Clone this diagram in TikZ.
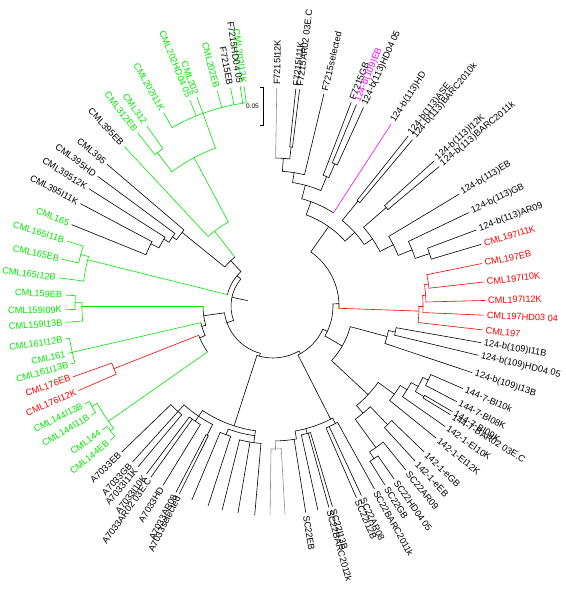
\documentclass[tikz,border=0pt]{standalone}
\usepackage{fontspec}
\setmainfont{Liberation Sans}
\usepackage{tikz}
\definecolor{cladegreen}{HTML}{00EA00}
\definecolor{cladered}{HTML}{FF0000}
\definecolor{cladepink}{HTML}{FF00FF}
\definecolor{edgegray}{HTML}{8C8C8C}
\tikzset{
  branch/.style={line width=0.6pt,line cap=round},
  tiplabel/.style={font=\fontsize{9.2}{10}\selectfont,inner sep=0pt},
  scalelabel/.style={font=\fontsize{6.5}{7}\selectfont,inner sep=0pt}
}
% clade: angle, parent radius, radius, arc from, arc to, colour
\newcommand{\clade}[6]{%
  \draw[branch,#6] (#1:#2) -- (#1:#3);
  \draw[branch,#6] (#4:#3) arc[start angle=#4,end angle=#5,radius=#3];}
% labelled tip: name, angle, parent radius, tip radius, edge colour, label colour, text
\newcommand{\leafnode}[7]{%
  \draw[branch,#5] (#2:#3) -- (#2:#4);
  \pgfmathtruncatemacro{\leftside}{(#2>90)&&(#2<270)}%
  \ifnum\leftside=1
    \node[tiplabel,text=#6,rotate=#2+180,anchor=east] (#1) at (#2:{#4+3}) {#7};
  \else
    \node[tiplabel,text=#6,rotate=#2,anchor=west] (#1) at (#2:{#4+3}) {#7};
  \fi}
% tip with no label: angle, parent radius, tip radius, colour
\newcommand{\bareleaf}[4]{\draw[branch,#4] (#1:#2) -- (#1:#3);}

\begin{document}
\begin{tikzpicture}[x=1pt,y=1pt]
  \useasboundingbox (-273,-295) rectangle (292,306);
  % scale bar
  \draw[branch,line cap=butt] (-13,219) -- (-10,219) -- (-10,181) -- (-13,181);
  \node[scalelabel,anchor=east] (scalebar) at (-14,200) {0.05};
  % root
  \draw[branch] (168:26) -- (168:42);
  \draw[branch] (140:42) arc[start angle=140,end angle=200,radius=42];

  % CML395, CML312, CML202, CML165
  \clade{140}{42}{47}{133}{166}{black}
  \clade{133}{47}{62}{128}{141}{black}
  \clade{128}{62}{95}{118}{133}{cladegreen}
  \leafnode{cxcveb}{133}{95}{218}{cladegreen}{black}{CML395EB}
  \clade{118}{95}{168}{110}{127}{cladegreen}
  \clade{127}{168}{192}{125}{128}{cladegreen}
  \leafnode{cccxii}{125}{192}{220}{cladegreen}{cladegreen}{CML312}
  \leafnode{cccxiieb}{128}{192}{220}{cladegreen}{cladegreen}{CML312EB}
  \clade{110}{168}{205}{97.5}{119.5}{cladegreen}
  \leafnode{ccciik}{119.5}{205}{222}{cladegreen}{cladegreen}{CML202I11K}
  \leafnode{cccihd}{112}{205}{222}{cladegreen}{cladegreen}{CML202HD04 05}
  \leafnode{cccii}{110}{205}{222}{cladegreen}{cladegreen}{CML202}
  \leafnode{ccciieb}{104.5}{205}{222}{cladegreen}{cladegreen}{CML202EB}
  \leafnode{fseb}{101}{205}{222}{cladegreen}{black}{F7215EB}
  \leafnode{fshd}{98.5}{205}{222}{cladegreen}{black}{F7215HD04 05}
  \leafnode{ccciixiik}{97.5}{205}{222}{cladegreen}{cladegreen}{CML202I12K}
  \clade{141}{62}{117}{139.5}{145.5}{black}
  \leafnode{cxcv}{139.5}{117}{218}{black}{black}{CML395}
  \clade{145.5}{117}{122}{143.5}{148.5}{black}
  \leafnode{cxcvhd}{143.5}{122}{218}{black}{black}{CML395HD}
  \clade{148.5}{122}{128}{147.5}{153}{black}
  \leafnode{cxcvxii}{147.5}{128}{218}{black}{black}{CML39512K}
  \clade{153}{128}{137}{152}{158}{black}
  \leafnode{cxcvxi}{152}{137}{218}{black}{black}{CML395I11K}
  \leafnode{clxv}{158}{137}{217}{black}{cladegreen}{CML165}
  \clade{166}{47}{191}{165}{172.5}{cladegreen}
  \clade{165}{191}{199}{162.5}{167.5}{cladegreen}
  \leafnode{clxvxi}{162.5}{199}{216}{cladegreen}{cladegreen}{CML165I11B}
  \leafnode{clxveb}{167.5}{199}{216}{cladegreen}{cladegreen}{CML165EB}
  \leafnode{clxvxii}{172.5}{191}{216}{cladegreen}{cladegreen}{CML165I12B}

  % CML159, CML161, CML176, CML144
  \clade{200}{42}{49}{188}{255}{black}
  \clade{188}{49}{70}{180}{196}{black}
  \clade{180}{70}{191}{179}{184.5}{cladegreen}
  \clade{179}{191}{198}{177}{181}{cladegreen}
  \leafnode{clixeb}{177}{198}{208}{cladegreen}{cladegreen}{CML159EB}
  \leafnode{clixix}{181}{198}{208}{cladegreen}{cladegreen}{CML159I09K}
  \leafnode{clixxiii}{184.5}{191}{208}{cladegreen}{cladegreen}{CML159I13B}
  \clade{196}{70}{74}{193}{203.5}{black}
  \clade{193}{74}{206}{189}{196}{cladegreen}
  \leafnode{clxixii}{189}{206}{210}{cladegreen}{cladegreen}{CML161I12B}
  \leafnode{clxi}{193}{206}{210}{cladegreen}{cladegreen}{CML161}
  \leafnode{clxixiii}{196}{206}{210}{cladegreen}{cladegreen}{CML161I13B}
  \clade{203.5}{74}{80}{201.5}{215}{black}
  \clade{201.5}{80}{171}{199.5}{203.5}{cladered}
  \leafnode{clxxvieb}{199.5}{171}{212}{cladered}{cladered}{CML176EB}
  \leafnode{clxxvixii}{203.5}{171}{212}{cladered}{cladered}{CML176I12K}
  \clade{215}{80}{201}{209}{217.5}{cladegreen}
  \clade{209}{201}{207}{207.5}{211}{cladegreen}
  \leafnode{cxlivxiii}{207.5}{207}{212}{cladegreen}{cladegreen}{CML144I13B}
  \leafnode{cxlivxi}{211}{207}{212}{cladegreen}{cladegreen}{CML144I11B}
  \clade{217.5}{201}{205}{216}{219.5}{cladegreen}
  \leafnode{cxliv}{216}{205}{211}{cladegreen}{cladegreen}{CML144}
  \leafnode{cxliveb}{219.5}{205}{211}{cladegreen}{cladegreen}{CML144EB}

  % A7033
  \clade{255}{49}{52}{252}{300}{black}
  \clade{252}{52}{126}{236}{262}{black}
  \clade{236}{126}{133}{228}{243}{black}
  \clade{228}{133}{142}{224}{230}{black}
  \leafnode{aeb}{224}{142}{210}{black}{black}{A7033EB}
  \leafnode{agb}{228}{142}{210}{black}{black}{A7033GB}
  \leafnode{axi}{230}{142}{210}{black}{black}{A7033I11K}
  \clade{236}{133}{139}{233}{238.5}{black}
  \leafnode{ax}{233}{139}{210}{black}{black}{A7033I10K}
  \leafnode{aar}{234.5}{139}{210}{black}{black}{A7033AR02 03E.C}
  \leafnode{ahd}{238.5}{139}{210}{black}{black}{A7033HD}
  \clade{243}{133}{145}{242.5}{243.5}{black}
  \leafnode{asel}{243.5}{145}{210}{black}{black}{A7033selected}
  \leafnode{aarviii}{242.5}{145}{210}{black}{black}{A7033AR08}
  \clade{262}{126}{131}{250}{262}{black}
  \clade{250}{131}{137}{247.3}{252}{black}
  \bareleaf{247.3}{137}{210}{black}
  \bareleaf{252}{137}{210}{black}
  \clade{262}{131}{138}{256}{265}{black}
  \bareleaf{256}{138}{210}{black}
  \bareleaf{260.4}{138}{210}{black}
  \bareleaf{265}{138}{210}{black}

  % SC22
  \clade{300}{52}{55}{297}{335}{black}
  \clade{297}{55}{127}{280}{298}{black}
  \clade{298}{127}{133}{293.5}{299}{black}
  \leafnode{scbxi}{299}{133}{209}{black}{black}{SC22BARC2011k}
  \leafnode{scarviii}{295}{133}{209}{black}{black}{SC22AR08}
  \leafnode{scxii}{293.5}{133}{209}{black}{black}{SC22I12B}
  \clade{285}{127}{132}{282.4}{286.5}{black}
  \leafnode{scxiii}{286.5}{132}{209}{black}{black}{SC22I13B}
  \leafnode{scbxii}{285.5}{132}{209}{black}{black}{SC22BARC2012k}
  \bareleaf{282.4}{132}{209}{black}
  \clade{280}{127}{135}{271}{280}{black}
  \leafnode{sceb}{279}{135}{209}{black}{black}{SC22EB}
  \clade{271}{135}{143}{269.2}{273.3}{edgegray}
  \bareleaf{269.2}{143}{209}{edgegray}
  \bareleaf{273.3}{143}{209}{edgegray}

  % 124-b(109), 144-7, 142-1
  \clade{335}{55}{60}{330}{362}{black}
  \clade{330}{60}{80}{317}{345}{black}
  \clade{345}{80}{118}{341.5}{348}{black}
  \leafnode{bcixxiii}{341.5}{118}{210}{black}{black}{124-b(109)I13B}
  \clade{348}{118}{125}{346.5}{350}{black}
  \leafnode{bcixxi}{350}{125}{211}{black}{black}{124-b(109)I11B}
  \leafnode{bcixhd}{346.5}{125}{211}{black}{black}{124-b(109)HD04 05}
  \clade{317}{80}{130}{310}{324}{black}
  \clade{324}{130}{150}{321}{328}{black}
  \leafnode{exii}{321}{150}{210}{black}{black}{142-1-EI12K}
  \clade{328}{150}{158}{325}{331}{black}
  \leafnode{ex}{325}{158}{210}{black}{black}{142-1-EI10K}
  \clade{331}{158}{166}{329}{334.5}{black}
  \clade{334.5}{166}{172}{332.5}{336.5}{black}
  \leafnode{bix}{336.5}{172}{207}{black}{black}{144-7-BI10k}
  \leafnode{bviii}{332.5}{172}{207}{black}{black}{144-7-BI08K}
  \clade{329}{166}{176}{328.5}{329.5}{black}
  \leafnode{bixk}{329.5}{176}{208}{black}{black}{144-7-BI09K}
  \leafnode{bar}{328.5}{176}{208}{black}{black}{144-7-BAR02 03E.C}
  \clade{310}{130}{140}{306}{314}{black}
  \clade{314}{140}{165}{312.5}{316}{black}
  \leafnode{egb}{316}{165}{210}{black}{black}{142-1-eGB}
  \leafnode{eeb}{312.5}{165}{210}{black}{black}{142-1-eEB}
  \clade{306}{140}{175}{303.5}{309}{black}
  \leafnode{scarix}{309}{175}{211}{black}{black}{SC22AR09}
  \clade{303.5}{175}{183}{302}{305}{black}
  \leafnode{schd}{305}{183}{211}{black}{black}{SC22HD04 05}
  \leafnode{scgb}{302}{183}{211}{black}{black}{SC22GB}

  % CML197
  \clade{362}{60}{66}{358}{415}{black}
  \clade{358}{66}{146}{353.5}{360}{cladered}
  \leafnode{cxcvii}{353.5}{146}{211}{cladered}{cladered}{CML197}
  \clade{360}{146}{150}{357.5}{364}{cladered}
  \leafnode{cxcviihd}{357.5}{150}{211}{cladered}{cladered}{CML197HD03 04}
  \clade{364}{150}{153}{361.5}{368}{cladered}
  \leafnode{cxcviixii}{361.5}{153}{212}{cladered}{cladered}{CML197I12K}
  \clade{368}{153}{157}{366.5}{371.5}{cladered}
  \leafnode{cxcviix}{366.5}{157}{212}{cladered}{cladered}{CML197I10K}
  \leafnode{cxcviieb}{371.5}{157}{213}{cladered}{cladered}{CML197EB}

  % F7215, 124-b(113)
  \clade{55}{66}{97}{42}{70}{black}
  \clade{70}{97}{111}{57}{75}{black}
  \leafnode{bcxiiihd}{57}{111}{217}{cladepink}{black}{124-b(113)HD}
  \clade{75}{111}{125}{67.5}{81}{black}
  \clade{81}{125}{135}{76.5}{86}{black}
  \leafnode{fsel}{76.5}{135}{218}{black}{black}{F7215selected}
  \clade{86}{135}{148}{83.5}{89}{black}
  \leafnode{fxii}{89}{148}{218}{edgegray}{black}{F7215I12K}
  \clade{83.5}{148}{160}{83}{84}{black}
  \leafnode{far}{83}{160}{218}{black}{black}{F7215AR02 03E.C}
  \leafnode{fxi}{84}{160}{218}{black}{black}{F7215I11K}
  \clade{67.5}{125}{140}{66.5}{69}{black}
  \leafnode{fgb}{69}{140}{218}{black}{black}{F7215GB}
  \clade{66.5}{140}{155}{65.5}{67.5}{black}
  \leafnode{bcixeb}{67.5}{155}{218}{black}{cladepink}{124-b(109)EB}
  \leafnode{bcxiiihdiv}{65.5}{155}{218}{black}{black}{124-b(113)HD04 05}
  \clade{42}{97}{110}{34}{51}{black}
  \clade{51}{110}{135}{50}{51.5}{black}
  \leafnode{bcxiiiase}{51.5}{135}{217}{black}{black}{124-b(113)ASE}
  \leafnode{bcxiiibx}{50}{135}{217}{black}{black}{124-b(113)BARC2010k}
  \clade{34}{110}{120}{27}{41}{black}
  \clade{41}{120}{150}{40}{42}{black}
  \leafnode{bcxiiixii}{42}{150}{217}{black}{black}{124-b(113)I12K}
  \leafnode{bcxiiibxi}{40}{150}{217}{black}{black}{124-b(113)BARC2011k}
  \clade{27}{120}{135}{22}{31}{black}
  \leafnode{bcxiiieb}{31}{135}{217}{black}{black}{124-b(113)EB}
  \clade{22}{135}{150}{18.5}{25.5}{black}
  \leafnode{bcxiiigb}{25.5}{150}{217}{black}{black}{124-b(113)GB}
  \clade{18.5}{150}{165}{16.5}{20.5}{black}
  \leafnode{bcxiiiar}{20.5}{165}{217}{black}{black}{124-b(113)AR09}
  \leafnode{cxcviixi}{16.5}{165}{217}{black}{cladered}{CML197I11K}
\end{tikzpicture}
\end{document}
